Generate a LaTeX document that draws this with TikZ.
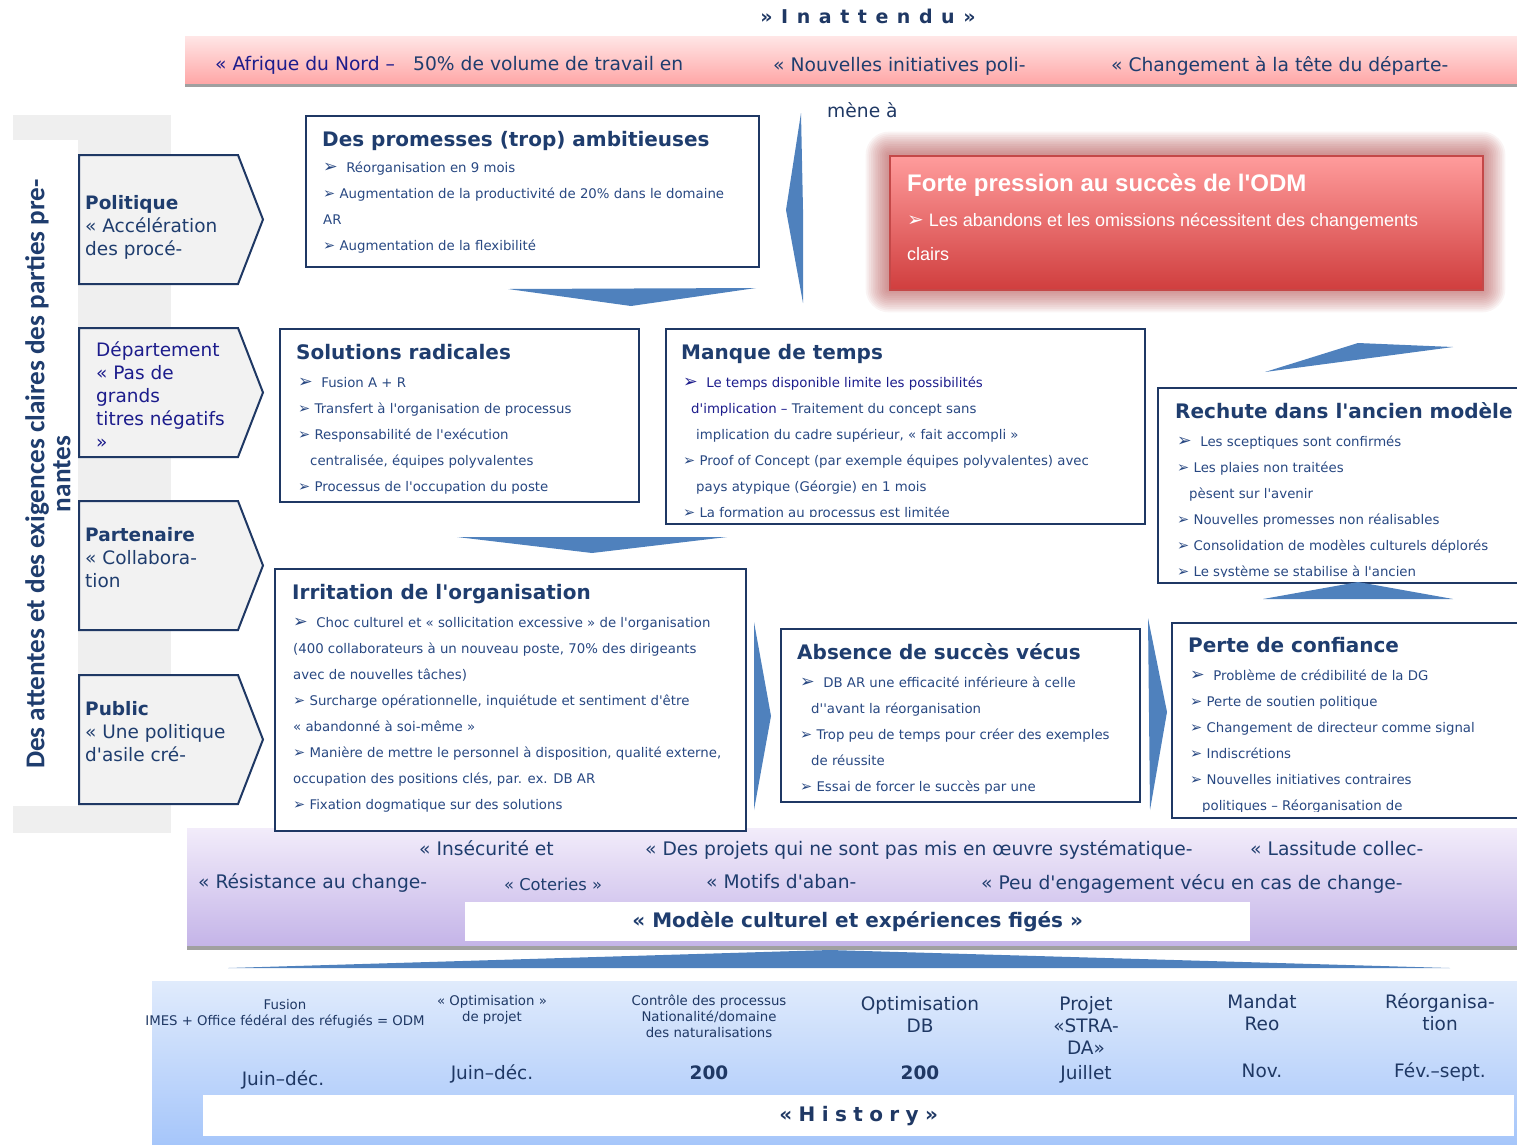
\documentclass[tikz,border=0pt]{standalone}
\usepackage{fontspec}
\setmainfont{DejaVu Sans}[Ligatures=TeXOff]
\newfontfamily\dvfont{DejaVu Sans}
\newfontfamily\arialfont{Liberation Sans}
\newfontfamily\calfont{Carlito}
\usetikzlibrary{positioning}

\definecolor{boxline}{RGB}{31,56,100}
\definecolor{titleblue}{RGB}{31,61,110}
\definecolor{itemblue}{RGB}{40,72,130}
\definecolor{navyblue}{RGB}{28,28,140}
\definecolor{arrowblue}{RGB}{79,129,189}
\definecolor{chevfill}{RGB}{242,242,242}
\definecolor{bandgrey}{RGB}{239,239,239}
\definecolor{glowred}{RGB}{170,60,60}
\definecolor{lineGrey}{RGB}{160,160,160}

\newcommand{\bul}{{\dvfont\fontsize{14.5}{14.5}\selectfont ➢}\ }
\newcommand{\bigbul}{{\dvfont\fontsize{17.5}{17.5}\selectfont ➢}\ \ }

\begin{document}
\begin{tikzpicture}[
    x=1pt,y=-1pt,
    box/.style={draw=boxline,line width=2pt,fill=white,anchor=north west,inner sep=0pt},
    boxtitle/.style={anchor=base west,inner sep=0pt,text=titleblue,
                     font=\fontsize{20}{24}\selectfont\bfseries},
    items/.style={anchor=base west,inner sep=0pt,align=left,text=itemblue,
                  font=\fontsize{13.3}{26}\selectfont},
    chev/.style={draw=boxline,line width=2pt,fill=chevfill,line join=miter},
    chevtext/.style={anchor=base west,inner sep=0pt,align=left,text=titleblue,
                     font=\fontsize{18.5}{23}\selectfont},
    bandtext/.style={anchor=base west,inner sep=0pt,text=titleblue,
                     font=\fontsize{18.7}{22}\selectfont},
    band/.style={anchor=north west,inner sep=0pt},
    histtext/.style={anchor=base,inner sep=0pt,align=center,text=boxline,
                     font=\fontsize{13.3}{16}\selectfont},
    histbig/.style={anchor=base,inner sep=0pt,align=center,text=boxline,
                    font=\fontsize{18.5}{22}\selectfont},
    bigarrow/.style={fill=arrowblue}
]
\useasboundingbox (0,0) rectangle (1517,1144);

% bands
\node[band,minimum width=1332pt,minimum height=48pt,
      top color={rgb,255:red,255;green,230;blue,230},
      bottom color={rgb,255:red,255;green,166;blue,166}] (unexpband) at (185,36) {};
\fill[lineGrey] (185,84) rectangle (1517,87);
\node[band,minimum width=1330pt,minimum height=118pt,
      top color={rgb,255:red,242;green,236;blue,250},
      bottom color={rgb,255:red,196;green,180;blue,232}] (culture) at (187,828) {};
\fill[lineGrey] (187,946) rectangle (1517,950);
\node[band,minimum width=1365pt,minimum height=163pt,
      top color={rgb,255:red,224;green,235;blue,252},
      bottom color={rgb,255:red,166;green,198;blue,250}] (history) at (152,981) {};

\fill[bandgrey] (13,115) rectangle (171,833);
\fill[white] (13,140) rectangle (78,806);

\node[font=\bfseries\fontsize{19}{22}\selectfont\addfontfeature{LetterSpace=45},
      text=boxline,inner sep=0pt] (unexpected) at (868,16) {»Inattendu»};

\node[bandtext,text=navyblue] (afrique) at (215,70) {« Afrique du Nord –};
\node[bandtext] (volume) at (413,70) {50\% de volume de travail en};
\node[bandtext] (nouvinit) at (773,71) {« Nouvelles initiatives poli-};
\node[bandtext] (chgtete) at (1111,71) {« Changement à la tête du départe-};

% stakeholders
\foreach \t in {155,328,501,675}
  \draw[chev] (79,\t) -- (238,\t) -- (263,{\t+64.5}) -- (238,{\t+129}) -- (79,{\t+129}) -- cycle;
\node[chevtext] (poltext) at (85,255) {\textbf{Politique}\\« Accélération\\des procé-};
\node[chevtext,text=navyblue] (deptext) at (96,448) {Département\\« Pas de\\grands\\titres négatifs\\»};
\node[chevtext] (partext) at (85,587) {\textbf{Partenaire}\\« Collabora-\\tion};
\node[chevtext] (pubtext) at (85,761) {\textbf{Public}\\« Une politique\\d'asile cré-};
\node[rotate=90,align=center,inner sep=0pt,text=titleblue,
      font=\calfont\bfseries\fontsize{27.2}{26}\selectfont] (stakeholders) at (48,474)
      {Des attentes et des exigences claires des parties pre-\\nantes};

% promesses
\node[box,minimum width=453pt,minimum height=151pt] (promesses) at (305,115) {};
\node[boxtitle] (promtitle) at (322,146) {Des promesses (trop) ambitieuses};
\node[items,font=\fontsize{13.3}{25.7}\selectfont] (promitems) at (323,250) {\bigbul Réorganisation en 9 mois\\
  \bul Augmentation de la productivité de 20\% dans le domaine\\AR\\
  \bul Augmentation de la flexibilité};
\fill[bigarrow] (508,289) -- (756,288) -- (631,306) -- cycle;
\fill[bigarrow] (801,113) -- (803,210) -- (803,303) -- (786,210) -- cycle;
\node[bandtext,text=boxline] (mene) at (827,117) {mène à};

% pression
\foreach \g in {1,...,13}
  \fill[glowred,opacity=0.06,rounded corners={1.8*\g}]
    ({889-1.8*\g},{155-1.8*\g}) rectangle ({1482+1.8*\g},{289+1.8*\g});
\node[band,minimum width=593pt,minimum height=134pt,draw={rgb,255:red,196;green,72;blue,72},
      line width=1.5pt,
      top color={rgb,255:red,255;green,156;blue,156},
      bottom color={rgb,255:red,208;green,62;blue,62}] (pression) at (889,155) {};
\node[anchor=base west,inner sep=0pt,text=white,
      font=\arialfont\bfseries\fontsize{24}{28}\selectfont] (prestitle) at (907,191)
      {Forte pression au succès de l'ODM};
\node[anchor=base west,inner sep=0pt,align=left,text=white,
      font=\arialfont\fontsize{18}{34}\selectfont] (presitems) at (907,260)
      {{\dvfont\fontsize{20}{20}\selectfont ➢}\ Les abandons et les omissions nécessitent des changements\\clairs};

% solutions
\node[box,minimum width=359pt,minimum height=173pt] (solutions) at (279,328) {};
\node[boxtitle] (soltitle) at (296,359) {Solutions radicales};
\node[items] (solitems) at (298,491) {\bigbul Fusion A + R\\
  \bul Transfert à l'organisation de processus\\
  \bul Responsabilité de l'exécution\\
  \hspace*{12pt}centralisée, équipes polyvalentes\\
  \bul Processus de l'occupation du poste};
\fill[bigarrow] (457,537) -- (727,537) -- (592,553) -- cycle;

% manque
\node[box,minimum width=479pt,minimum height=195pt] (manque) at (665,328) {};
\node[boxtitle] (mantitle) at (681,359) {Manque de temps};
\begin{scope}
\clip (665,328) rectangle (1144,516);
\node[items] (manitems) at (683,517) {{\color{navyblue}\bigbul Le temps disponible limite les possibilités}\\
  \hspace*{8pt}{\color{navyblue}d'implication –} Traitement du concept sans\\
  \hspace*{13pt}implication du cadre supérieur, « fait accompli »\\
  \bul Proof of Concept (par exemple équipes polyvalentes) avec\\
  \hspace*{13pt}pays atypique (Géorgie) en 1 mois\\
  \bul La formation au processus est limitée};
\end{scope}

% rechute
\fill[bigarrow] (1265,372) -- (1358,343) -- (1453,347) -- cycle;
\node[box,minimum width=375pt,minimum height=195pt] (rechute) at (1157,387) {};
\node[boxtitle] (rectitle) at (1175,418) {Rechute dans l'ancien modèle};
\begin{scope}
\clip (1157,387) rectangle (1517,576);
\node[items] (recitems) at (1177,576) {\bigbul Les sceptiques sont confirmés\\
  \bul Les plaies non traitées\\
  \hspace*{12pt}pèsent sur l'avenir\\
  \bul Nouvelles promesses non réalisables\\
  \bul Consolidation de modèles culturels déplorés\\
  \bul Le système se stabilise à l'ancien};
\end{scope}
\fill[bigarrow] (1263,599) -- (1358,582) -- (1453,599) -- cycle;

% irritation
\node[box,minimum width=471pt,minimum height=262pt] (irritation) at (274,568) {};
\node[boxtitle] (irrtitle) at (292,599) {Irritation de l'organisation};
\node[items] (irritems) at (293,809) {\bigbul Choc culturel et « sollicitation excessive » de l'organisation\\
  (400 collaborateurs à un nouveau poste, 70\% des dirigeants\\
  avec de nouvelles tâches)\\
  \bul Surcharge opérationnelle, inquiétude et sentiment d'être\\
  « abandonné à soi-même »\\
  \bul Manière de mettre le personnel à disposition, qualité externe,\\
  occupation des positions clés, par. ex. DB AR\\
  \bul Fixation dogmatique sur des solutions};
\fill[bigarrow] (754,622) -- (771,716) -- (754,810) -- cycle;

% absence
\node[box,minimum width=359pt,minimum height=173pt] (absence) at (780,628) {};
\node[boxtitle] (abstitle) at (797,659) {Absence de succès vécus};
\node[items] (absitems) at (800,791) {\bigbul DB AR une efficacité inférieure à celle\\
  \hspace*{11pt}d''avant la réorganisation\\
  \bul Trop peu de temps pour créer des exemples\\
  \hspace*{11pt}de réussite\\
  \bul Essai de forcer le succès par une};
\fill[bigarrow] (1148,618) -- (1167,712) -- (1150,810) -- cycle;

% perte
\node[box,minimum width=360pt,minimum height=195pt] (perte) at (1171,622) {};
\node[boxtitle] (pertitle) at (1188,652) {Perte de confiance};
\begin{scope}
\clip (1171,622) rectangle (1517,811);
\node[items] (peritems) at (1190,810) {\bigbul Problème de crédibilité de la DG\\
  \bul Perte de soutien politique\\
  \bul Changement de directeur comme signal\\
  \bul Indiscrétions\\
  \bul Nouvelles initiatives contraires\\
  \hspace*{12pt}politiques – Réorganisation de};
\end{scope}

% culture
\node[bandtext] (insecur) at (419,855) {« Insécurité et};
\node[bandtext] (projets) at (645,855) {« Des projets qui ne sont pas mis en œuvre systématique-};
\node[bandtext] (lassitude) at (1250,855) {« Lassitude collec-};
\node[bandtext] (resist) at (198,888) {« Résistance au change-};
\node[bandtext,font=\fontsize{16.3}{18}\selectfont] (coteries) at (504,890) {« Coteries »};
\node[bandtext] (motifs) at (706,888) {« Motifs d'aban-};
\node[bandtext] (engage) at (981,889) {« Peu d'engagement vécu en cas de change-};
\node[band,fill=white,minimum width=785pt,minimum height=39pt,text=titleblue,
      font=\bfseries\fontsize{20}{24}\selectfont] (figes) at (465,902)
      {« Modèle culturel et expériences figés »};
\fill[bigarrow] (228,968) -- (830,950) -- (1450,968) -- cycle;

% history
\node[histtext] (fusion) at (285,1025) {Fusion\\IMES + Office fédéral des réfugiés = ODM};
\node[histtext] (optproj) at (492,1021) {« Optimisation »\\de projet};
\node[histtext] (controle) at (709,1037) {Contrôle des processus\\Nationalité/domaine\\des naturalisations};
\node[histbig] (optdb) at (920,1032) {Optimisation\\DB};
\node[histbig] (strada) at (1086,1054) {Projet\\«STRA-\\DA»};
\node[histbig] (mandat) at (1262,1030) {Mandat\\Reo};
\node[histbig] (reorg) at (1440,1030) {Réorganisa-\\tion};
\node[histbig] (date1) at (283,1085) {Juin–déc.};
\node[histbig] (date2) at (492,1079) {Juin–déc.};
\node[histbig] (date3) at (709,1079) {\textbf{200}};
\node[histbig] (date4) at (920,1079) {\textbf{200}};
\node[histbig] (date5) at (1086,1079) {Juillet};
\node[histbig] (date6) at (1262,1077) {Nov.};
\node[histbig] (date7) at (1440,1077) {Fév.–sept.};
\node[band,fill=white,minimum width=1311pt,minimum height=41pt,text=boxline,
      font=\bfseries\fontsize{20}{24}\selectfont\addfontfeature{LetterSpace=32}] (histlabel) at (203,1095)
      {«History»};
\end{tikzpicture}
\end{document}
